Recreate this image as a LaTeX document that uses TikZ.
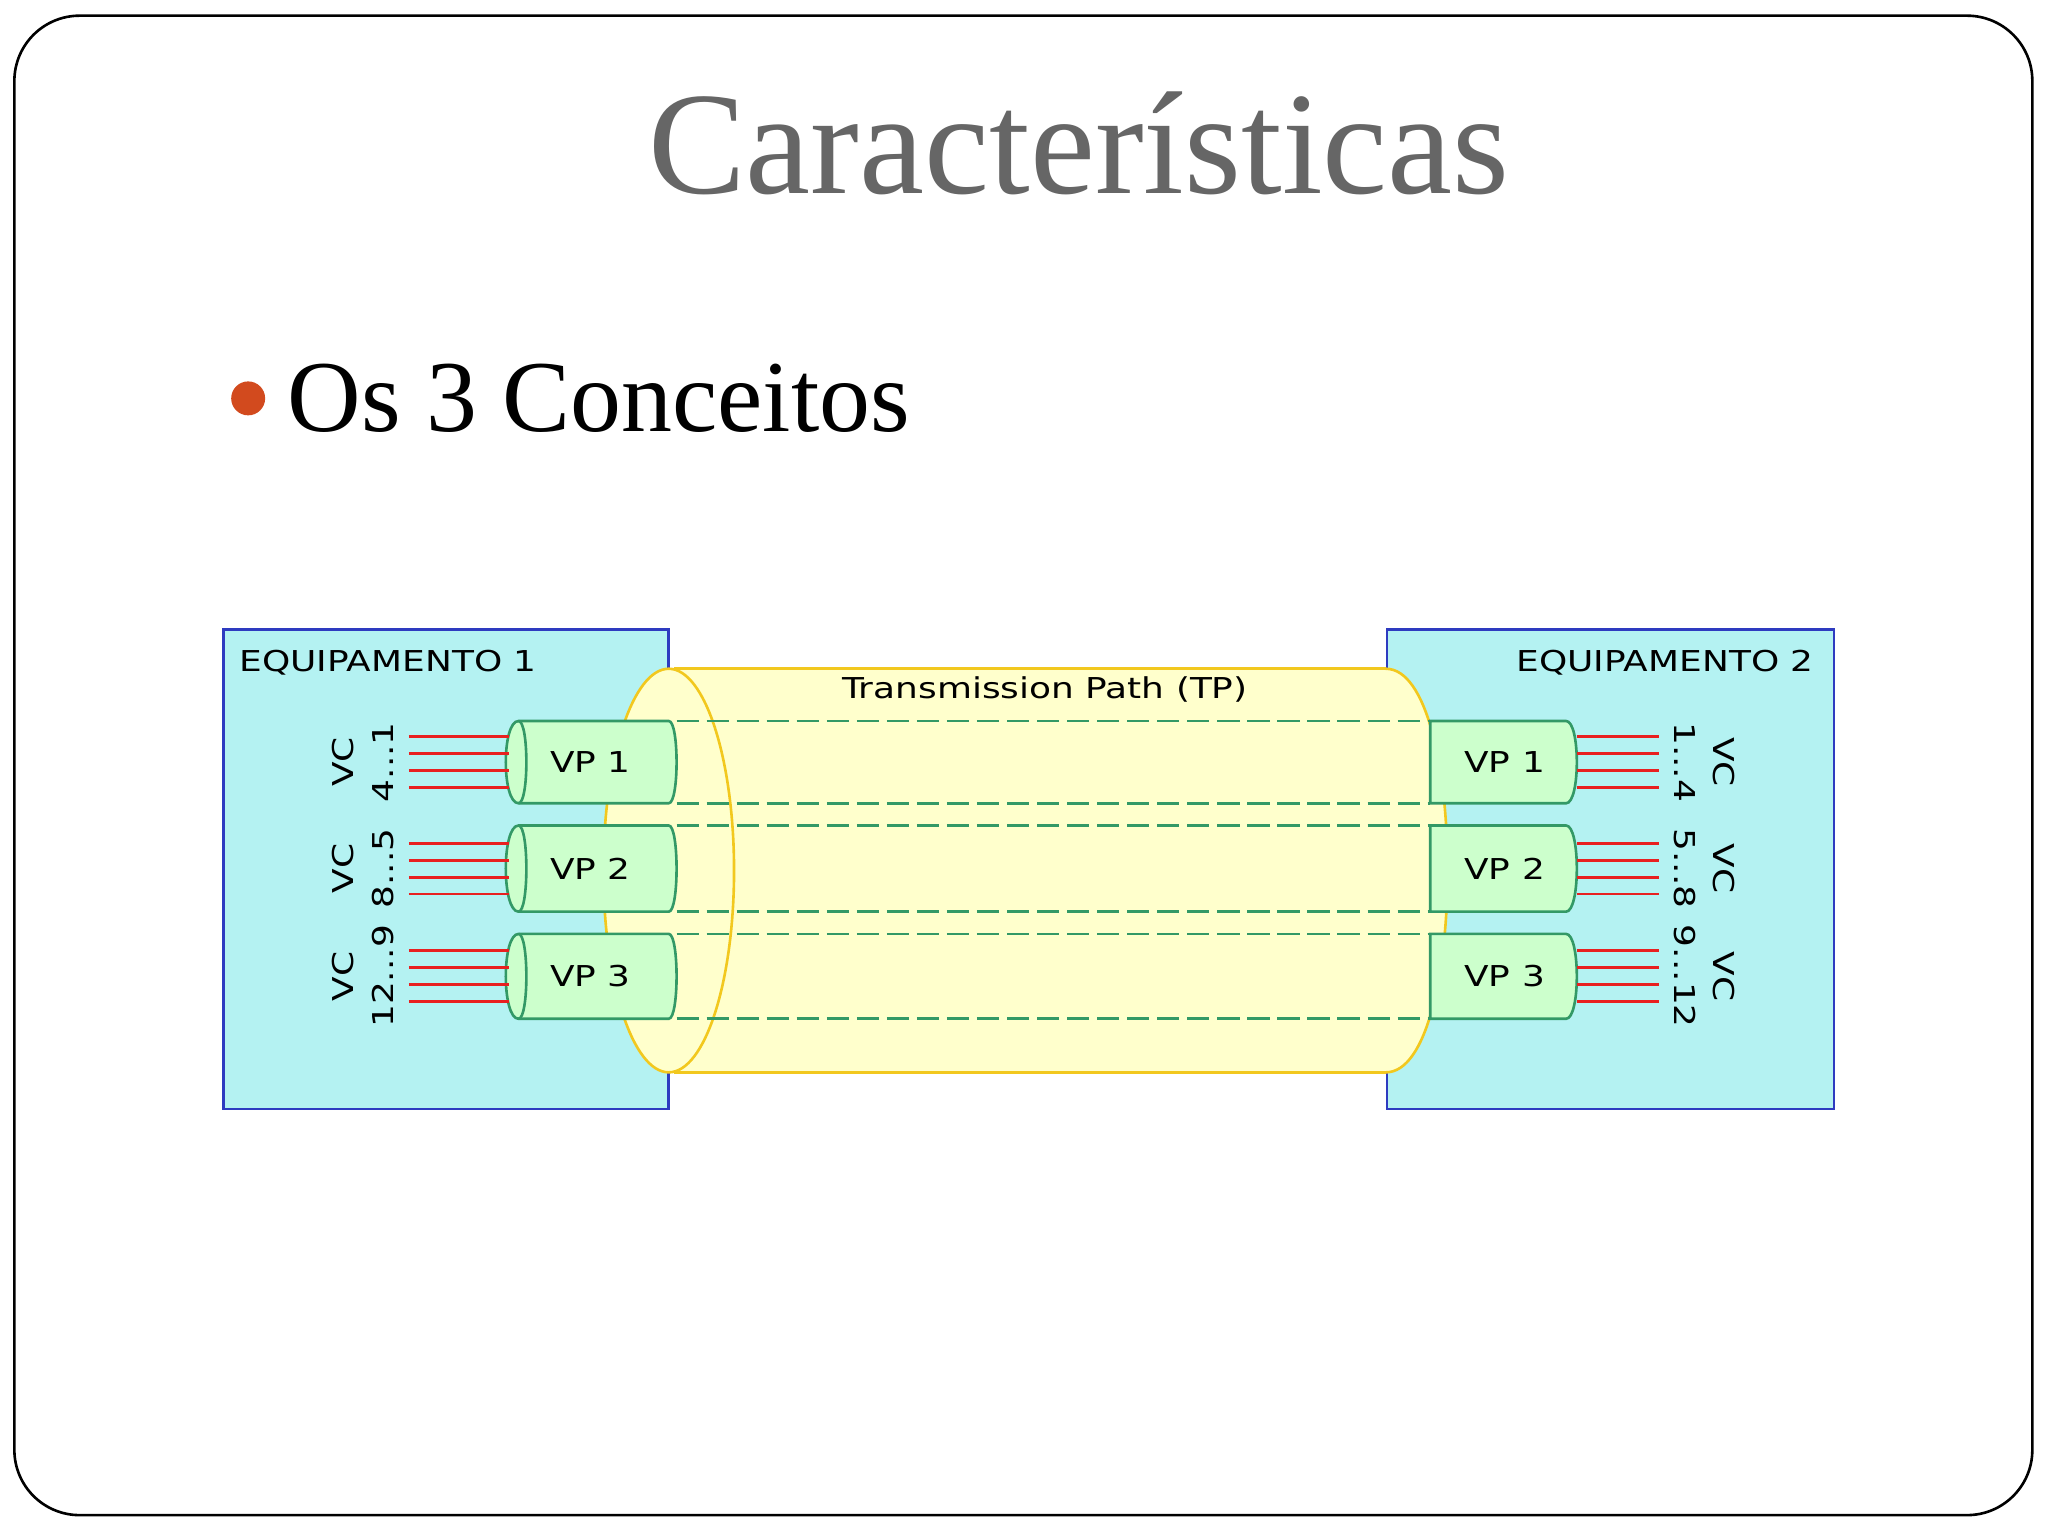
\documentclass[tikz,border=0pt]{standalone}
\usepackage{fontspec}
\setmainfont{Liberation Serif}
\newfontfamily\pix[FakeStretch=1.25]{DejaVu Sans}
\definecolor{eqfill}{HTML}{B4F2F2}
\definecolor{eqline}{HTML}{2E3BC0}
\definecolor{tpfill}{HTML}{FFFFCC}
\definecolor{tpline}{HTML}{F2C81E}
\definecolor{vpfill}{HTML}{CCFFCC}
\definecolor{vpline}{HTML}{339966}
\definecolor{vcred}{HTML}{E82020}
\definecolor{bul}{HTML}{D24A1E}
\begin{document}
\begin{tikzpicture}[x=1pt,y=-1pt,
  eqbox/.style={draw=eqline,fill=eqfill,line width=2pt},
  tp/.style={draw=tpline,fill=tpfill,line width=2pt},
  vpbox/.style={draw=vpline,fill=vpfill,line width=2pt},
  dsh/.style={vpline,line width=2pt,dash pattern=on 17pt off 6pt},
  vc/.style={vcred,line width=2.2pt},
  lab/.style={font=\pix\fontsize{22}{24}\selectfont},
  vpl/.style={font=\pix\fontsize{22}{24}\selectfont}]
\useasboundingbox (0,0) rectangle (1568,1176);
\fill[white] (0,0) rectangle (1568,1176);
\draw[line width=2pt,rounded corners=50pt] (11,12) rectangle (1556,1160);
\node[font=\fontsize{112}{114}\selectfont,text=black!60,anchor=base] (title) at (826,148) {Características};
\fill[bul] (190,305) circle (13) coordinate (b);
\node[font=\fontsize{78}{80}\selectfont,anchor=base west,inner sep=0] (sub) at (220,330) {Os 3 Conceitos};
% equipment boxes
\node[eqbox,minimum width=341,minimum height=367,anchor=north west] (eq1) at (170,481) {};
\node[eqbox,minimum width=342,minimum height=367,anchor=north west] (eq2) at (1061,481) {};
\node[lab,anchor=west] (eq1l) at (180,507) {EQUIPAMENTO 1};
\node[lab,anchor=east] (eq2l) at (1392,507) {EQUIPAMENTO 2};
% transmission path tube
\fill[tpfill] (516,512) rectangle (1061,821);
\draw[tp] (1061,512) .. controls (1124,512) and (1124,821) .. (1061,821);
\draw[tpline,line width=2pt] (516,512) -- (1061,512) (516,821) -- (1061,821);
\draw[tp] (512,666.5) ellipse[x radius=50,y radius=154.5];
\node[lab] (tpl) at (800,528) {Transmission Path (TP)};
% VPs
\foreach \n/\t/\b/\m in {1/552/615/583.5,2/632/698/665,3/715/780/747.5}{
  \draw[dsh] (518,\t) -- (1095,\t) (518,\b) -- (1095,\b);
  \draw[vpbox] (397,\t) -- (512,\t) .. controls (520,\t) and (520,\b) .. (512,\b) -- (397,\b) .. controls (384,\b) and (384,\t) .. (397,\t) -- cycle;
  \draw[vpline,line width=2pt] (397,\t) .. controls (405,\t) and (405,\b) .. (397,\b);
  \node[vpl] (lvp\n) at (452,\m) {VP \n};
  \draw[vpbox] (1095,\t) -- (1199,\t) .. controls (1210,\t) and (1210,\b) .. (1199,\b) -- (1095,\b) -- cycle;
  \node[vpl] (rvp\n) at (1152,\m) {VP \n};
  \foreach \k in {-19.5,-6.5,6.5,19.5}{
    \draw[vc] (313,\m+\k) -- (390,\m+\k);
    \draw[vc] (1207,\m+\k) -- (1270,\m+\k);
  }
  \node[lab,rotate=90] (lvc\n) at (263,\m) {VC};
  \node[lab,rotate=-90] (rvc\n) at (1320,\m) {VC};
}
\node[lab,rotate=90] (ln1) at (293,583.5) {4...1};
\node[lab,rotate=90] (ln2) at (293,665) {8...5};
\node[lab,rotate=90] (ln3) at (293,747.5) {12...9};
\node[lab,rotate=-90] (rn1) at (1290,583.5) {1...4};
\node[lab,rotate=-90] (rn2) at (1290,665) {5...8};
\node[lab,rotate=-90] (rn3) at (1290,747.5) {9...12};
\end{tikzpicture}
\end{document}
